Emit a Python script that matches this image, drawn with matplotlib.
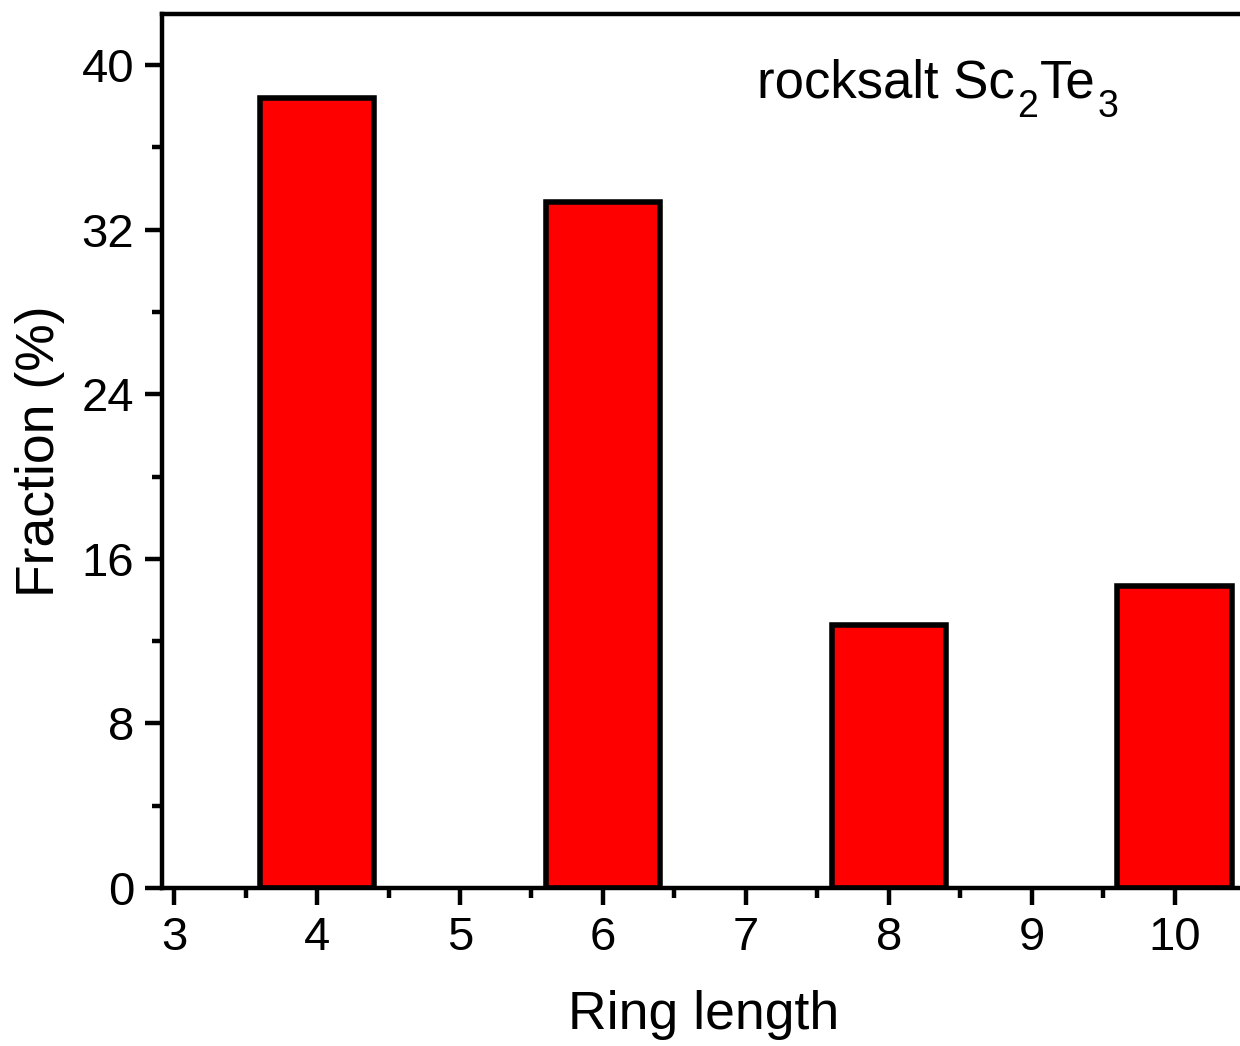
import matplotlib
matplotlib.use("Agg")
import matplotlib.pyplot as plt
from matplotlib.ticker import MultipleLocator

plt.rcParams['font.family'] = ['Liberation Sans', 'DejaVu Sans']

ring_length = [4, 6, 8, 10]
fraction = [38.4, 33.35, 12.8, 14.7]
label_parts = [('rocksalt Sc', False), ('2', True), ('Te', False), ('3', True)]

W, H = 1240, 1046
fig = plt.figure(figsize=(W/100, H/100), dpi=100)
x0, x1 = 162, 1246
y0, y1 = 888, 14
ax = fig.add_axes([x0/W, 1 - y0/H, (x1-x0)/W, (y0-y1)/H])

ax.bar(ring_length, fraction, width=0.8, color='#ff0000', edgecolor='black', linewidth=4)
ax.set_xlim(2.915, 10.5)
ax.set_ylim(0, 42.48)
ax.xaxis.set_major_locator(MultipleLocator(1))
ax.xaxis.set_minor_locator(MultipleLocator(0.5))
ax.yaxis.set_major_locator(MultipleLocator(8))
ax.yaxis.set_minor_locator(MultipleLocator(4))
for s in ax.spines.values():
    s.set_linewidth(3.2)
ax.tick_params(which='major', direction='out', length=12, width=3.2, labelsize=34, pad=8)
ax.tick_params(which='minor', direction='out', length=7, width=3.2)
ax.tick_params(top=False, right=False)

ax.set_xlabel('Ring length', fontsize=38.5, labelpad=22)
ax.set_ylabel('Fraction (%)', fontsize=38.5, labelpad=12)

renderer = fig.canvas.get_renderer()
xp = 757
for txt, sub in label_parts:
    if sub:
        t = fig.text(xp + 2, H - 117, txt, transform=None, fontsize=27)
    else:
        t = fig.text(xp, H - 97, txt, transform=None, fontsize=38)
    bb = t.get_window_extent(renderer=renderer)
    xp = bb.x1 + (2 if sub else 0)

fig.savefig('out.png', dpi=100)
